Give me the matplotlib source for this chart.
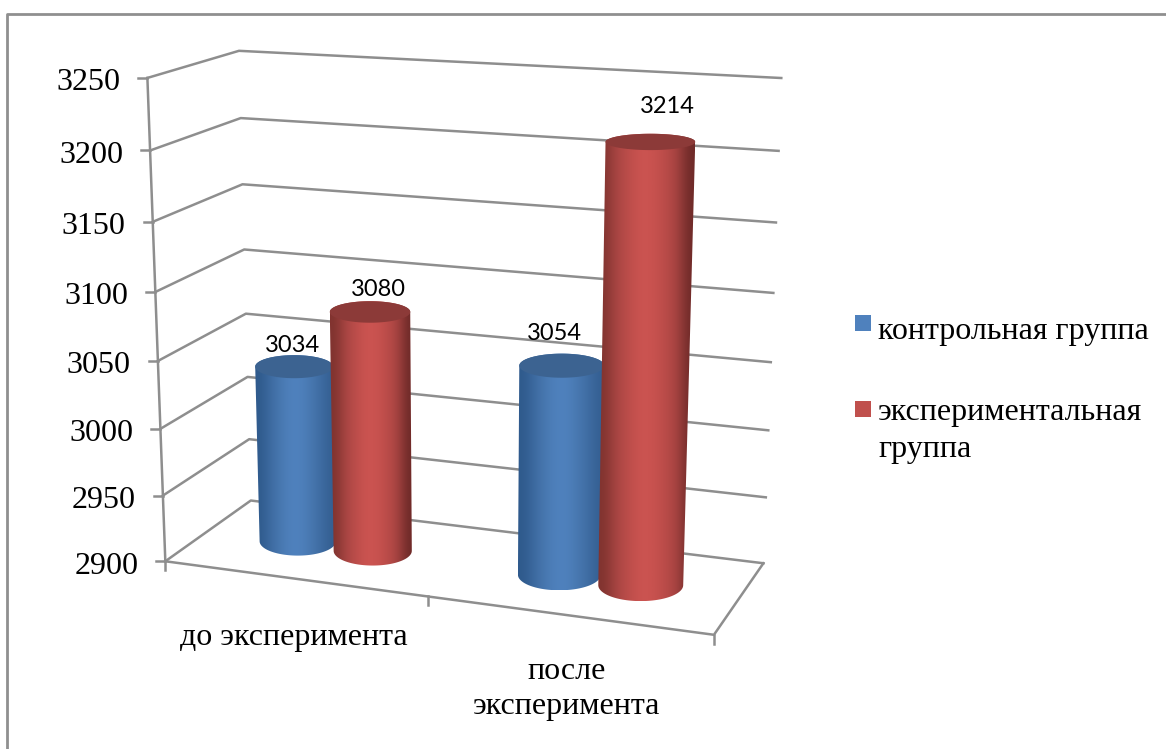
import numpy as np
import matplotlib
matplotlib.use('Agg')
import matplotlib.pyplot as plt
from matplotlib.patches import Polygon, Rectangle

# data
categories = ['до эксперимента', 'после\nэксперимента']
series_names = ['контрольная группа', 'экспериментальная\nгруппа']
control = [3034, 3054]
experiment = [3080, 3214]
y_ticks = [2900, 2950, 3000, 3050, 3100, 3150, 3200, 3250]

VMIN, VMAX = y_ticks[0], y_ticks[-1]

# camera calibration: (x, value, z) -> pixel
calib_world = [(0, 3250, 0), (0, 3100, 0), (0, 2900, 0),
               (0, 3250, 1), (0, 3100, 1), (0, 2900, 1),
               (2, 3250, 1), (2, 3100, 1), (2, 2900, 1),
               (2, 2900, 0)]
calib_px = [(147, 78), (156, 292), (165, 561),
            (239, 51), (244, 249), (251, 501),
            (781, 78), (774, 293), (763, 563),
            (714, 635)]


def fit_camera(world, px):
    rows, rhs = [], []
    for (x, v, z), (u, w) in zip(world, px):
        t = (v - VMIN) / (VMAX - VMIN)
        rows.append([x, t, z, 1, 0, 0, 0, 0, -u * x, -u * t, -u * z])
        rhs.append(u)
        rows.append([0, 0, 0, 0, x, t, z, 1, -w * x, -w * t, -w * z])
        rhs.append(w)
    sol = np.linalg.lstsq(np.array(rows, float), np.array(rhs, float), rcond=None)[0]
    return np.append(sol, 1).reshape(3, 4)


CAM = fit_camera(calib_world, calib_px)


def proj(x, v, z):
    p = CAM @ np.array([x, (v - VMIN) / (VMAX - VMIN), z, 1.0])
    return p[0] / p[2], p[1] / p[2]


fig = plt.figure(figsize=(11.66, 7.49), dpi=100)
ax = fig.add_axes([0, 0, 1, 1])
serif = 'Liberation Serif'
line_col = '#8e8e8e'
LW = 1.8

# outer frame of the pasted picture
ax.plot([7, 7, 1166], [749, 14, 14], color='#8f8f8f', lw=2, zorder=1)

# walls, grid
for v in y_ticks:
    a, b, c = proj(0, v, 0), proj(0, v, 1), proj(2, v, 1)
    ax.plot([a[0], b[0], c[0]], [a[1], b[1], c[1]], color=line_col, lw=LW, zorder=2)
    ax.plot([a[0] - 9, a[0]], [a[1], a[1]], color=line_col, lw=LW, zorder=2)
    ax.text(a[0] - 27, a[1] + 5, str(v), ha='right', va='center',
            family=serif, size=23, color='black')

# vertical axis and floor
f0, f1 = proj(0, VMIN, 0), proj(0, VMAX, 0)
ax.plot([f0[0], f1[0]], [f0[1], f1[1]], color=line_col, lw=LW, zorder=2)
corner_a, corner_b, corner_c = proj(2, VMIN, 0), proj(2, VMIN, 1), proj(1, VMIN, 0)
ax.plot([f0[0], corner_a[0], corner_b[0]], [f0[1], corner_a[1], corner_b[1]],
        color=line_col, lw=LW, zorder=2)
for p in (f0, corner_c, corner_a):
    ax.plot([p[0], p[0]], [p[1], p[1] + 9], color=line_col, lw=LW, zorder=2)

# cylinders
blue_stops = ['#2f5a8c', '#3d6aa0', '#4878b0', '#4f81bd', '#4f81bd', '#4878b0', '#3f6ca2', '#345f92']
red_stops = ['#80332f', '#a84543', '#bc4d4a', '#cc5451', '#ca5350', '#bb4c49', '#a84442', '#6e2a28']
blue_top = '#3c6391'
red_top = '#8c3a38'
BLUE_OFF = -0.145
RED_OFF = 0.15
BAR_R = 0.152
BAR_RZ = 0.23
BAR_Z = 0.5
# data label shift from the top of the bar, pixels
label_dx = [[-2, -7], [8, 17]]
label_dy = [[-10, -20], [-12, -27]]


def ellipse(x, v):
    left = proj(x - BAR_R, v, BAR_Z)
    right = proj(x + BAR_R, v, BAR_Z)
    back = proj(x, v, BAR_Z + BAR_RZ)
    front = proj(x, v, BAR_Z - BAR_RZ)
    a = (right[0] - left[0]) / 2
    b = abs(front[1] - back[1]) / 2
    return (left[0] + right[0]) / 2, (front[1] + back[1]) / 2, a, b


def cylinder(x, value, stops, top_col, z):
    tx, ty, ta, tb = ellipse(x, value)
    bx, by, ba, bb = ellipse(x, VMIN)
    t = np.linspace(0, np.pi, 60)
    # bottom half of the base, then far half of the top
    lower = np.column_stack([bx - ba * np.cos(t), by + bb * np.sin(t)])
    upper = np.column_stack([tx + ta * np.cos(t), ty - tb * np.sin(t)])
    body = Polygon(np.vstack([lower, upper]), closed=True, facecolor='none', edgecolor='none', zorder=z)
    ax.add_patch(body)
    cols = matplotlib.colors.to_rgba_array(stops)[None, :, :]
    x0, x1 = min(tx - ta, bx - ba), max(tx + ta, bx + ba)
    im = ax.imshow(cols, extent=(x0, x1, by + bb, ty - tb), aspect='auto',
                   interpolation='bicubic', zorder=z)
    im.set_clip_path(body)
    tt = np.linspace(0, 2 * np.pi, 120)
    ax.add_patch(Polygon(np.column_stack([tx + ta * np.cos(tt), ty + tb * np.sin(tt)]),
                         closed=True, facecolor=top_col, edgecolor='none', zorder=z + 0.1))
    return tx, ty - tb


for i in range(len(categories)):
    cx = i + 0.5
    tx, ty = cylinder(cx + BLUE_OFF, control[i], blue_stops, blue_top, 3)
    ax.text(tx + label_dx[0][i], ty + label_dy[0][i], str(control[i]), ha='center', va='center',
            family='Lato', size=17, color='black', zorder=6)
    tx, ty = cylinder(cx + RED_OFF, experiment[i], red_stops, red_top, 4)
    ax.text(tx + label_dx[1][i], ty + label_dy[1][i], str(experiment[i]), ha='center', va='center',
            family='Lato', size=17, color='black', zorder=6)

# category labels
ax.text(294, 638, categories[0], ha='center', va='center', family=serif, size=23)
ax.text(567, 689, categories[1], ha='center', va='center', family=serif, size=23, linespacing=1.3)

# legend
ax.add_patch(Rectangle((855, 315), 16, 16, facecolor='#4f81bd', edgecolor='none'))
ax.add_patch(Rectangle((855, 401), 16, 16, facecolor='#c0504d', edgecolor='none'))
ax.text(878, 331, series_names[0], ha='left', va='center', family=serif, size=23)
ax.text(878, 431, series_names[1], ha='left', va='center', family=serif, size=23, linespacing=1.37)

ax.set_xlim(0, 1166)
ax.set_ylim(749, 0)
ax.axis('off')
fig.savefig('out.png', dpi=100)
